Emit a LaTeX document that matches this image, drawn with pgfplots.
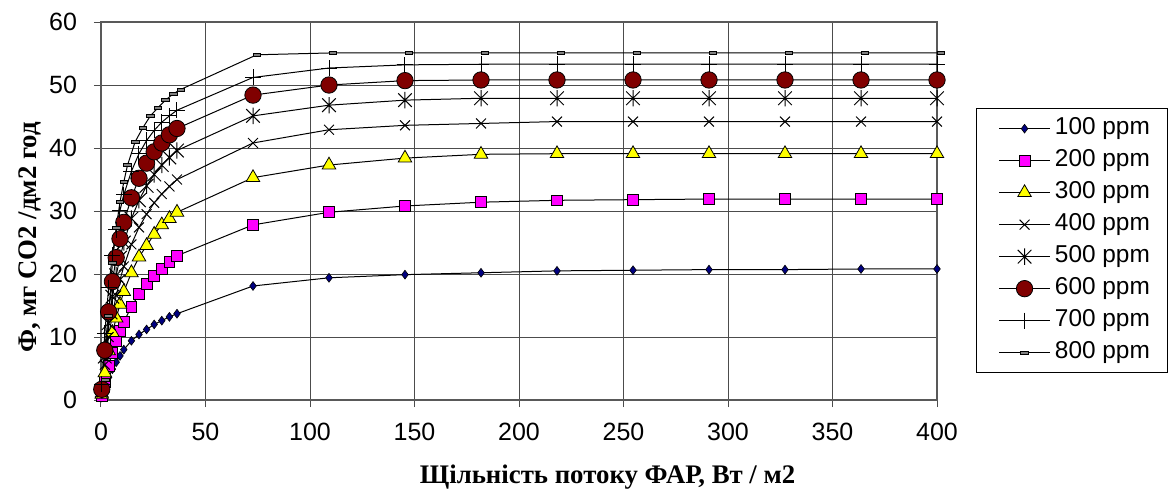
\documentclass[border=0pt]{standalone}
\usepackage{pgfplots}
\usepackage{pgfplotstable}
\pgfplotsset{compat=1.18}
\usepackage{fontspec}
\setmainfont{Liberation Sans}
\newfontfamily\lserif{Liberation Serif}
\definecolor{c100}{HTML}{000080}
\definecolor{c200}{HTML}{FF00FF}
\definecolor{c300}{HTML}{FFFF00}
\definecolor{c600}{HTML}{800000}
\definecolor{c800}{HTML}{808080}
\pgfdeclareplotmark{excelstar}{%
  \pgfpathmoveto{\pgfqpoint{-\pgfplotmarksize}{-\pgfplotmarksize}}%
  \pgfpathlineto{\pgfqpoint{\pgfplotmarksize}{\pgfplotmarksize}}%
  \pgfpathmoveto{\pgfqpoint{-\pgfplotmarksize}{\pgfplotmarksize}}%
  \pgfpathlineto{\pgfqpoint{\pgfplotmarksize}{-\pgfplotmarksize}}%
  \pgfpathmoveto{\pgfpoint{0pt}{-1.2\pgfplotmarksize}}%
  \pgfpathlineto{\pgfpoint{0pt}{1.2\pgfplotmarksize}}%
  \pgfusepathqstroke}
\pgfdeclareplotmark{dashbox}{%
  \pgfpathrectangle{\pgfpoint{-\pgfplotmarksize}{-0.4\pgfplotmarksize}}{\pgfpoint{2\pgfplotmarksize}{0.8\pgfplotmarksize}}%
  \pgfusepathqfillstroke}

\pgfplotstableread{
x     a100 a200 a300 a400 a500 a600 a700 a800
0.36  0.4  0.6  0.9  1.2  1.5  1.7  2.5  3.2
1.82  2.0  2.9  4.3  5.6  6.9  7.9  10.6 13.3
3.64  3.6  5.4  7.8  10.0 12.2 14.0 17.8 21.7
5.45  4.9  7.5  10.7 13.6 16.4 18.8 23.0 27.3
7.27  6.0  9.3  13.0 16.6 19.8 22.6 27.0 31.4
9.09  7.0  11.0 15.2 19.1 22.6 25.6 30.1 34.6
10.91 8.0  12.4 17.2 21.2 25.0 28.2 32.6 37.3
14.55 9.4  14.8 20.2 24.7 28.8 32.1 36.3 41.0
18.18 10.4 16.8 22.7 27.4 31.7 35.2 39.1 43.2
21.82 11.2 18.4 24.5 29.5 34.0 37.6 41.2 45.1
25.45 12.0 19.7 26.3 31.3 35.8 39.4 42.8 46.4
29.09 12.6 20.8 27.8 32.7 37.3 40.8 44.1 47.6
32.73 13.2 21.9 28.8 33.9 38.5 42.1 45.1 48.6
36.36 13.7 22.9 29.8 35.0 39.6 43.1 46.0 49.3
72.73 18.1 27.8 35.3 40.8 45.1 48.4 51.2 54.8
109.09 19.4 29.8 37.3 42.9 46.8 50.0 52.7 55.1
145.45 19.9 30.8 38.4 43.6 47.6 50.7 53.2 55.1
181.82 20.2 31.4 39.0 43.9 47.9 50.8 53.3 55.1
218.18 20.5 31.7 39.1 44.2 47.9 50.8 53.3 55.1
254.55 20.6 31.8 39.1 44.2 47.9 50.8 53.3 55.1
290.91 20.7 31.9 39.1 44.2 47.9 50.8 53.3 55.1
327.27 20.7 31.9 39.1 44.2 47.9 50.8 53.3 55.1
363.64 20.8 31.9 39.1 44.2 47.9 50.8 53.3 55.1
400.00 20.8 31.9 39.1 44.2 47.9 50.8 53.3 55.1
}\datatable

\begin{document}
\begin{tikzpicture}
\useasboundingbox (-50.5pt,-47.5pt) rectangle (535pt,200pt);
\begin{axis}[
  at={(0,0)}, anchor=south west,
  scale only axis, width=418pt, height=189pt,
  xmin=0, xmax=400, ymin=0, ymax=60,
  xtick={0,50,...,400}, ytick={0,10,...,60},
  grid=major, major grid style={black!70, line width=0.5pt},
  axis line style={black!65, line width=0.7pt},
  tick align=outside, major tick length=3.5pt,
  tick style={black!70, line width=0.5pt},
  xtick pos=lower, ytick pos=left,
  ticklabel style={font=\fontsize{12.5}{14}\selectfont},
  xticklabel style={yshift=-4.5pt},
  yticklabel style={xshift=-5pt},
  /pgf/number format/assume math mode=true,
  xlabel={\lserif\bfseries Щільність потоку ФАР, Вт / м2},
  ylabel={\lserif\bfseries Ф, мг СО2 /дм2 год},
  label style={font=\fontsize{13.4}{15}\selectfont},
  xlabel style={at={(axis description cs:0.373,-0.222)}, anchor=base west},
  ylabel style={at={(axis description cs:-0.0766,0.43)}, anchor=base, rotate=0},
  legend style={at={(axis description cs:1.0467,0.7716)}, anchor=north west,
    draw=black, line width=0.5pt, fill=white,
    font=\fontsize{12.2}{14}\selectfont,
    nodes={text height=8.8pt, text depth=2.6pt, inner sep=2.2pt},
    row sep=0.2pt, inner xsep=6.4pt, inner ysep=2pt},
  legend cell align=left,
  legend image code/.code={\path (-4.6pt,0pt); \draw[mark repeat=2,mark phase=2,#1] plot coordinates {(0pt,0pt) (12.75pt,0pt) (25.5pt,0pt)};},
  every axis plot/.append style={line width=0.5pt, black},
  clip=false,
]
\addplot[mark=diamond*, mark size=2.2pt, mark options={draw=black, fill=c100, line width=0.3pt}] table[x=x,y=a100] {\datatable};
\addlegendentry{100 ppm}
\addplot[mark=square*, mark size=2.7pt, mark options={draw=black, fill=c200, line width=0.4pt}] table[x=x,y=a200] {\datatable};
\addlegendentry{200 ppm}
\addplot[mark=triangle*, mark size=3.9pt, mark options={draw=black, fill=c300, line width=0.4pt}] table[x=x,y=a300] {\datatable};
\addlegendentry{300 ppm}
\addplot[mark=x, mark size=3.5pt, mark options={draw=black, line width=0.5pt}] table[x=x,y=a400] {\datatable};
\addlegendentry{400 ppm}
\addplot[mark=excelstar, mark size=3.4pt, mark options={draw=black, line width=0.5pt}] table[x=x,y=a500] {\datatable};
\addlegendentry{500 ppm}
\addplot[mark=*, mark size=4.1pt, mark options={draw=black, fill=c600, line width=0.4pt}] table[x=x,y=a600] {\datatable};
\addlegendentry{600 ppm}
\addplot[mark=+, mark size=4pt, mark options={draw=black, line width=0.5pt}] table[x=x,y=a700] {\datatable};
\addlegendentry{700 ppm}
\addplot[mark=dashbox, mark size=1.9pt, mark options={draw=black, fill=c800, line width=0.4pt}] table[x expr=\thisrow{x}+1.8,y=a800] {\datatable};
\addlegendentry{800 ppm}
\end{axis}
\end{tikzpicture}
\end{document}
